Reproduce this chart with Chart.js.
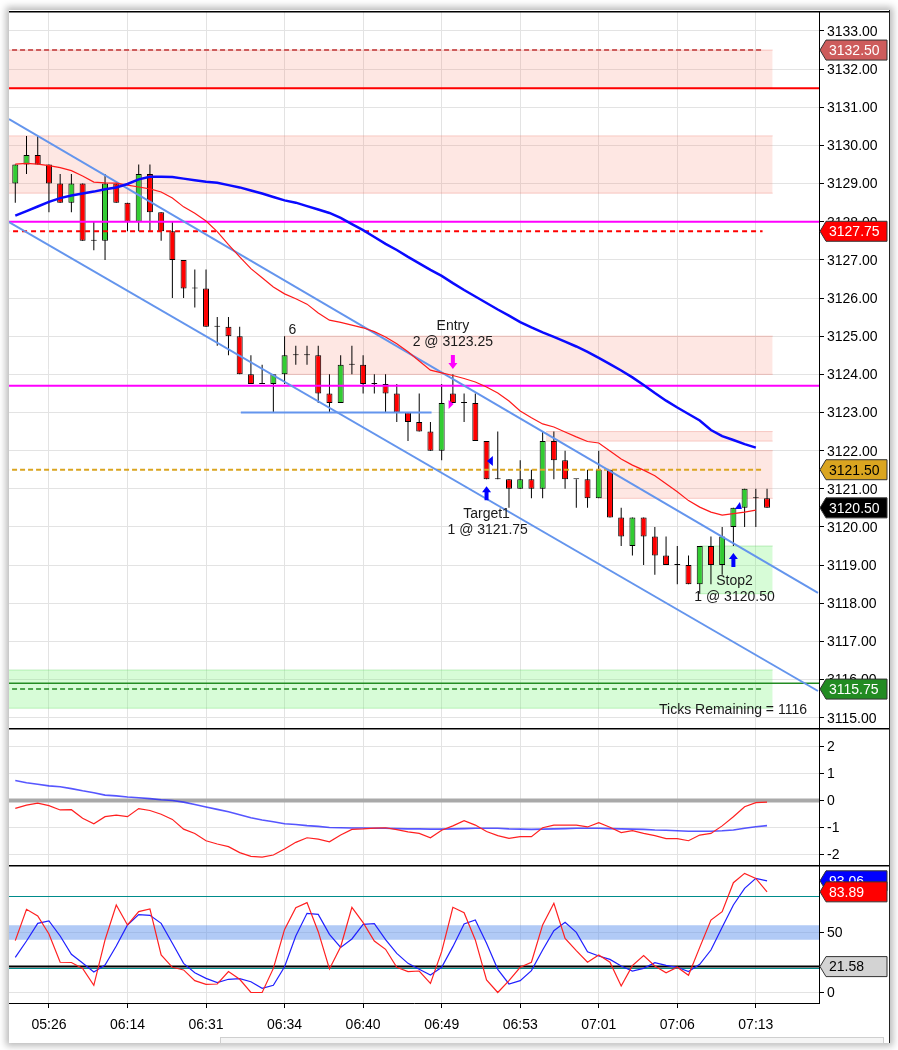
<!DOCTYPE html>
<html>
<head>
<meta charset="utf-8">
<title>ES 1 min</title>
<script src="https://cdn.jsdelivr.net/npm/chart.js@4.4.1/dist/chart.umd.min.js"></script>
<style>
  html, body { margin: 0; padding: 0; background: #fff; }
  #page { position: relative; width: 898px; height: 1050px; overflow: hidden; background: #fff; }
  #frame { position: absolute; left: 9px; top: 10px; width: 880px; height: 1033px; background: #fff;
           border-right: 1px solid #222; box-shadow: 0 0 7px 3px rgba(0,0,0,0.28); }
  canvas { position: absolute; left: 9px; }
  #scroll { position: absolute; left: 220px; top: 1037px; width: 662px; height: 5px;
            border: 1px solid #cfcfcf; background: #f5f5f5; }
</style>
</head>
<body>
<div id="page">
  <div id="frame"></div>
  <canvas id="priceChart" width="880" height="717" style="top:11px"></canvas>
  <canvas id="oscChart" width="880" height="137" style="top:728px"></canvas>
  <canvas id="stochChart" width="880" height="172" style="top:865px"></canvas>
  <div id="scroll"></div>
</div>
<script>
const FONT = '"Liberation Sans", Arial, Helvetica, sans-serif';

// ---- data ----
const timeLabels = ['05:26', '06:14', '06:31', '06:34', '06:40', '06:49', '06:53', '07:01', '07:06', '07:13'];
const labelBars = [3, 10, 17, 24, 31, 38, 45, 52, 59, 66];

const opens = [3129.0, 3129.5, 3129.75, 3129.5, 3129.0, 3128.5, 3129.0, 3127.5, 3127.5, 3129.0,
  3128.5, 3128.0, 3129.25, 3128.25, 3127.75, 3127.0, 3126.25, 3126.25, 3125.25, 3125.25,
  3125.0, 3124.0, 3123.75, 3123.75, 3124.0, 3124.5, 3124.5, 3124.5, 3123.5, 3123.25,
  3124.25, 3124.25, 3123.75, 3123.75, 3123.5, 3123.0, 3122.75, 3122.5, 3122.0, 3123.5,
  3123.25, 3123.25, 3122.25, 3121.25, 3121.25, 3121.0, 3121.25, 3121.0, 3122.25, 3121.75,
  3121.25, 3121.25, 3120.75, 3121.5, 3120.25, 3119.5, 3120.25, 3119.75, 3119.25, 3119.0,
  3119.0, 3118.5, 3119.5, 3119.0, 3120.0, 3120.5, 3120.75, 3120.75];
const highs = [3129.5, 3130.25, 3130.25, 3129.5, 3129.25, 3129.25, 3129.0, 3128.0, 3129.25, 3129.0,
  3128.5, 3129.5, 3129.5, 3128.25, 3128.0, 3127.0, 3126.75, 3126.75, 3125.5, 3125.5,
  3125.25, 3124.5, 3124.25, 3124.0, 3125.0, 3124.75, 3124.75, 3124.75, 3124.0, 3124.5,
  3124.75, 3124.5, 3124.0, 3124.0, 3123.75, 3123.0, 3123.5, 3122.75, 3123.75, 3124.0,
  3123.5, 3123.5, 3122.25, 3122.5, 3121.25, 3121.75, 3121.5, 3122.5, 3122.5, 3122.0,
  3121.25, 3121.5, 3122.0, 3121.5, 3120.5, 3120.25, 3120.25, 3120.0, 3119.75, 3119.5,
  3119.25, 3119.5, 3119.75, 3120.0, 3120.5, 3121.0, 3121.0, 3121.0];
const lows = [3128.5, 3129.25, 3129.5, 3128.25, 3128.5, 3128.25, 3127.5, 3127.25, 3127.0, 3128.5,
  3127.75, 3127.75, 3127.75, 3127.5, 3126.0, 3126.0, 3125.75, 3125.25, 3124.75, 3124.5,
  3124.0, 3123.75, 3123.75, 3123.0, 3123.75, 3124.25, 3124.25, 3123.25, 3123.0, 3123.25,
  3124.0, 3123.5, 3123.5, 3123.0, 3122.75, 3122.25, 3122.5, 3122.0, 3121.75, 3123.25,
  3122.75, 3122.25, 3121.25, 3121.25, 3120.5, 3121.0, 3120.75, 3120.75, 3121.25, 3121.0,
  3120.5, 3120.5, 3120.75, 3120.25, 3119.5, 3119.25, 3119.0, 3118.75, 3119.0, 3118.5,
  3118.5, 3118.25, 3118.5, 3118.75, 3119.5, 3120.0, 3120.0, 3120.5];
const closes = [3129.5, 3129.75, 3129.5, 3129.0, 3128.5, 3129.0, 3127.5, 3127.5, 3129.0, 3128.5,
  3128.0, 3129.25, 3128.25, 3127.75, 3127.0, 3126.25, 3126.25, 3125.25, 3125.25, 3125.0,
  3124.0, 3123.75, 3123.75, 3124.0, 3124.5, 3124.5, 3124.5, 3123.5, 3123.25, 3124.25,
  3124.25, 3123.75, 3123.75, 3123.5, 3123.0, 3122.75, 3122.5, 3122.0, 3123.25, 3123.25,
  3123.25, 3122.25, 3121.25, 3121.25, 3121.0, 3121.25, 3121.0, 3122.25, 3121.75, 3121.25,
  3121.25, 3120.75, 3121.5, 3120.25, 3119.75, 3120.25, 3119.75, 3119.25, 3119.0, 3119.0,
  3118.5, 3119.5, 3119.0, 3119.75, 3120.5, 3121.0, 3120.75, 3120.5];

const slowAverage = [3128.16, 3128.28, 3128.40, 3128.52, 3128.62, 3128.69, 3128.74, 3128.79, 3128.85, 3128.90,
  3128.99, 3129.11, 3129.18, 3129.18, 3129.17, 3129.13, 3129.09, 3129.05, 3129.02, 3128.96,
  3128.90, 3128.82, 3128.74, 3128.65, 3128.56, 3128.50, 3128.41, 3128.32, 3128.23, 3128.10,
  3127.94, 3127.78, 3127.60, 3127.42, 3127.26, 3127.08, 3126.91, 3126.74, 3126.58, 3126.39,
  3126.21, 3126.04, 3125.87, 3125.70, 3125.54, 3125.37, 3125.23, 3125.10, 3124.98, 3124.86,
  3124.73, 3124.59, 3124.43, 3124.27, 3124.10, 3123.92, 3123.72, 3123.51, 3123.31, 3123.13,
  3122.96, 3122.79, 3122.54, 3122.38, 3122.28, 3122.17, 3122.08];
const fastAverage = [3129.51, 3129.53, 3129.51, 3129.47, 3129.42, 3129.34, 3129.20, 3129.04, 3129.02, 3129.01,
  3128.96, 3128.91, 3128.86, 3128.78, 3128.62, 3128.39, 3128.22, 3128.02, 3127.74, 3127.40,
  3127.08, 3126.77, 3126.53, 3126.29, 3126.11, 3125.98, 3125.84, 3125.61, 3125.42, 3125.36,
  3125.29, 3125.22, 3125.12, 3124.98, 3124.80, 3124.59, 3124.35, 3124.11, 3124.04, 3123.97,
  3123.89, 3123.80, 3123.67, 3123.51, 3123.30, 3123.04, 3122.86, 3122.70, 3122.62, 3122.49,
  3122.36, 3122.24, 3122.20, 3121.99, 3121.78, 3121.62, 3121.49, 3121.34, 3121.13, 3120.92,
  3120.69, 3120.52, 3120.39, 3120.31, 3120.35, 3120.39, 3120.44];

const oscFast = [-0.29, -0.17, -0.10, -0.19, -0.35, -0.34, -0.66, -0.86, -0.60, -0.54,
  -0.60, -0.30, -0.37, -0.51, -0.70, -1.06, -1.22, -1.49, -1.61, -1.71,
  -1.93, -2.07, -2.10, -2.02, -1.80, -1.55, -1.38, -1.43, -1.53, -1.28,
  -1.07, -1.05, -1.02, -1.01, -1.08, -1.16, -1.22, -1.38, -1.10, -0.94,
  -0.75, -0.91, -1.15, -1.30, -1.40, -1.34, -1.34, -1.01, -0.91, -0.91,
  -0.91, -0.98, -0.82, -0.99, -1.19, -1.12, -1.22, -1.30, -1.41, -1.41,
  -1.49, -1.28, -1.22, -0.94, -0.60, -0.23, -0.08, -0.06];
const oscSlow = [0.74, 0.66, 0.60, 0.54, 0.51, 0.44, 0.36, 0.29, 0.20, 0.17,
  0.13, 0.10, 0.07, 0.03, 0.00, -0.06, -0.15, -0.24, -0.33, -0.42,
  -0.53, -0.64, -0.72, -0.79, -0.86, -0.89, -0.93, -0.96, -1.00, -1.01,
  -1.02, -1.02, -1.03, -1.03, -1.04, -1.05, -1.05, -1.06, -1.06, -1.05,
  -1.04, -1.03, -1.03, -1.03, -1.05, -1.06, -1.07, -1.06, -1.05, -1.04,
  -1.03, -1.03, -1.03, -1.04, -1.05, -1.06, -1.07, -1.09, -1.10, -1.12,
  -1.14, -1.14, -1.14, -1.12, -1.09, -1.03, -0.97, -0.93];

const stochK = [43.2, 69.3, 63.8, 48.8, 25.2, 25.0, 20.1, 6.0, 43.8, 72.9,
  56.3, 67.4, 69.6, 31.3, 21.0, 18.8, 9.9, 6.8, 7.1, 17.4,
  11.0, 0.0, 0.0, 20.1, 52.6, 70.7, 74.9, 50.7, 19.6, 38.2,
  71.0, 58.2, 42.9, 36.0, 21.0, 17.4, 17.9, 7.6, 34.0, 71.0,
  66.5, 43.8, 10.4, 0.0, 9.9, 21.0, 25.2, 56.3, 74.3, 45.1,
  34.9, 25.2, 31.3, 25.2, 5.4, 22.4, 30.7, 22.1, 16.5, 21.0,
  14.3, 37.6, 60.4, 67.4, 91.5, 99.3, 95.1, 83.89];
const stochD = [29.3, 42.9, 57.6, 59.6, 47.1, 31.8, 24.6, 17.1, 22.9, 38.8,
  56.3, 64.9, 64.3, 57.6, 41.0, 24.3, 16.5, 11.8, 8.2, 11.0,
  11.5, 9.0, 3.5, 6.0, 21.5, 47.1, 66.0, 65.1, 48.5, 37.6,
  44.6, 56.8, 57.4, 44.0, 32.6, 24.3, 19.3, 14.6, 21.0, 38.2,
  57.1, 60.4, 41.0, 19.3, 7.1, 9.9, 18.2, 35.4, 51.5, 58.5,
  50.1, 34.0, 30.4, 27.6, 22.1, 17.9, 20.1, 24.9, 22.6, 21.0,
  17.4, 23.5, 35.4, 54.3, 72.9, 86.8, 95.1, 93.06];

const priceTicks = [3115, 3116, 3117, 3118, 3119, 3120, 3121, 3122, 3123, 3124,
  3125, 3126, 3127, 3128, 3129, 3130, 3131, 3132, 3133];
const oscTicks = [-2, -1, 0, 1, 2];
const stochTicks = [0, 50];

// horizontal levels (price, last bar they reach)
const levelPrices = [3132.5, 3131.5, 3128.0, 3127.75, 3123.7, 3121.5, 3115.9, 3115.75];
const levelEnds = [66.6, 73, 73, 66.6, 73, 66.6, 73, 66.6];
// zones: low / high price, first / last bar
const zoneLows = [3131.5, 3128.75, 3124.0, 3122.25, 3120.75, 3118.25, 3115.25];
const zoneHighs = [3132.5, 3130.25, 3125.0, 3122.5, 3122.0, 3119.5, 3116.25];
const zoneFrom = [-1, -1, 24.0, 47.3, 52.1, 61.0, -1];
const zoneTo = [67.5, 67.5, 67.5, 67.5, 67.5, 67.5, 67.5];
// drawn channel and support segment
const channelBars = [-0.56, 71.54];
const channelUpper = [3130.69, 3118.27];
const channelLower = [3127.99, 3115.70];
const supportBars = [20.1, 37.1];
const supportPrice = 3123.0;

// annotations
const noteTexts = ['6', 'Entry', '2 @ 3123.25', 'Target1', '1 @ 3121.75', 'Stop2', '1 @ 3120.50'];
const noteBars = [24.7, 39.0, 39.0, 42.0, 42.1, 64.1, 64.1];
const notePrices = [3125.16, 3125.27, 3124.85, 3120.34, 3119.92, 3118.58, 3118.16];
const arrowBars = [39, 42, 64];
const arrowPrices = [3124.14, 3121.07, 3119.32];
const arrowUp = [false, true, true];
const fillBars = [38.8, 42.3, 64.4];
const fillPrices = [3123.22, 3121.73, 3120.52];
const priceTags = [3132.5, 3127.75, 3121.5, 3120.5, 3115.75];
const stochTags = [93.06, 83.89, 21.58];
const stochBand = [44, 56];
const stochLevels = [80, 20];
const stochSignal = 21.58;

// ---- styles ----
const levelStyles = [
  { color: '#cd5c5c', width: 2, dash: [5, 3] },
  { color: '#ff0000', width: 2, dash: [] },
  { color: '#ff00ff', width: 2, dash: [] },
  { color: '#ff0000', width: 2, dash: [5, 4] },
  { color: '#ff00ff', width: 2, dash: [] },
  { color: '#daa520', width: 2, dash: [5, 3] },
  { color: '#228b22', width: 1.5, dash: [] },
  { color: '#228b22', width: 1.5, dash: [5, 3] }
];
const zoneColors = ['red', 'red', 'red', 'red', 'red', 'green', 'green'];
const tagStyles = [
  { fill: '#cd5c5c', text: '#fff' },
  { fill: '#ff0000', text: '#fff' },
  { fill: '#daa520', text: '#000' },
  { fill: '#000000', text: '#fff' },
  { fill: '#228b22', text: '#fff' }
];
const stochTagStyles = [
  { fill: '#0000ff', text: '#fff' },
  { fill: '#ff0000', text: '#fff' },
  { fill: '#d3d3d3', text: '#000' }
];
const arrowColors = ['#ff00ff', '#0000ff', '#0000ff'];
const GRID = '#e3e3e3';
const X_MIN = -0.56, X_MAX = 71.63;

Chart.defaults.font.family = FONT;
Chart.defaults.font.size = 14;
Chart.defaults.color = '#000';

const bars = opens.map((_, i) => i);
const pts = (arr) => arr.map((v, i) => ({ x: i, y: v }));
const seg = (x0, x1, y0, y1) => [{ x: x0, y: y0 }, { x: x1, y: y1 }];

function xAxis(showLabels) {
  return {
    type: 'linear', min: X_MIN, max: X_MAX, offset: false,
    afterBuildTicks: s => { s.ticks = labelBars.map(v => ({ value: v })); },
    afterFit: s => { s.height = showLabels ? 34 : 0; s.paddingLeft = 0; s.paddingRight = 0; },
    grid: { color: GRID, offset: false, drawTicks: showLabels, tickLength: 5, tickColor: '#000' },
    border: { display: showLabels, color: '#000', width: 1 },
    ticks: { display: showLabels, autoSkip: false, maxRotation: 0, padding: 9, font: { size: 14 },
             callback: (v, i) => timeLabels[i] }
  };
}

function yAxis(min, max, ticks, fmt) {
  return {
    type: 'linear', position: 'right', min, max,
    afterBuildTicks: s => { s.ticks = ticks.map(v => ({ value: v })); },
    afterFit: s => { s.width = 70; s.paddingTop = 0; s.paddingBottom = 0; },
    grid: { color: GRID, tickLength: 5, tickColor: '#000' },
    border: { color: '#000', width: 1 },
    ticks: { autoSkip: false, padding: 3, labelOffset: 1, font: { size: 14 }, callback: fmt }
  };
}

function baseOptions(y, showX) {
  return {
    responsive: false, animation: false, events: [],
    layout: { padding: 0 },
    plugins: { legend: { display: false }, tooltip: { enabled: false } },
    scales: { x: xAxis(showX), y }
  };
}

function lineSet(data, color, width, order, extra) {
  return Object.assign({ type: 'line', data, borderColor: color, borderWidth: width, pointRadius: 0,
    fill: false, tension: 0, order, clip: 0 }, extra || {});
}

function drawTag(ctx, area, y, text, style) {
  const x0 = area.right + 1, tip = 6, w = 61, h = 20;
  ctx.save();
  ctx.beginPath();
  ctx.moveTo(x0, y);
  ctx.lineTo(x0 + tip, y - h / 2);
  ctx.lineTo(x0 + tip + w, y - h / 2);
  ctx.lineTo(x0 + tip + w, y + h / 2);
  ctx.lineTo(x0 + tip, y + h / 2);
  ctx.closePath();
  ctx.fillStyle = style.fill;
  ctx.fill();
  ctx.strokeStyle = '#333';
  ctx.lineWidth = 1;
  ctx.stroke();
  ctx.fillStyle = style.text;
  ctx.font = '14px ' + FONT;
  ctx.textAlign = 'left';
  ctx.textBaseline = 'middle';
  ctx.fillText(text, x0 + tip + 3, y + 1);
  ctx.restore();
}

function topLine(chart) {
  const ctx = chart.ctx;
  ctx.save();
  ctx.strokeStyle = '#000';
  ctx.lineWidth = 1.5;
  ctx.beginPath();
  ctx.moveTo(0, chart.chartArea.top + 0.75);
  ctx.lineTo(chart.width, chart.chartArea.top + 0.75);
  ctx.stroke();
  ctx.restore();
}

const priceOverlay = {
  id: 'priceOverlay',
  afterDatasetsDraw(chart) {
    const { ctx, chartArea, scales: { x, y } } = chart;
    ctx.save();
    ctx.beginPath();
    ctx.rect(chartArea.left, chartArea.top, chartArea.width, chartArea.height);
    ctx.clip();
    ctx.font = '14px ' + FONT;
    ctx.fillStyle = '#1a1a1a';
    ctx.textAlign = 'center';
    ctx.textBaseline = 'middle';
    noteTexts.forEach((t, k) => ctx.fillText(t, x.getPixelForValue(noteBars[k]), y.getPixelForValue(notePrices[k])));
    ctx.textAlign = 'right';
    ctx.fillText('Ticks Remaining = 1116', chartArea.right - 12, chartArea.bottom - 18);

    arrowBars.forEach((b, k) => {
      const cx = x.getPixelForValue(b), tipY = y.getPixelForValue(arrowPrices[k]);
      const s = arrowUp[k] ? 1 : -1;
      ctx.fillStyle = arrowColors[k];
      ctx.beginPath();
      ctx.moveTo(cx, tipY);
      ctx.lineTo(cx - 4.5, tipY + s * 6);
      ctx.lineTo(cx - 2, tipY + s * 6);
      ctx.lineTo(cx - 2, tipY + s * 14);
      ctx.lineTo(cx + 2, tipY + s * 14);
      ctx.lineTo(cx + 2, tipY + s * 6);
      ctx.lineTo(cx + 4.5, tipY + s * 6);
      ctx.closePath();
      ctx.fill();
    });
    // small fill markers
    const tri = (cx, cy, pts, color) => {
      ctx.fillStyle = color;
      ctx.beginPath();
      ctx.moveTo(cx + pts[0][0], cy + pts[0][1]);
      ctx.lineTo(cx + pts[1][0], cy + pts[1][1]);
      ctx.lineTo(cx + pts[2][0], cy + pts[2][1]);
      ctx.closePath();
      ctx.fill();
    };
    const fx = fillBars.map(b => x.getPixelForValue(b));
    const fy = fillPrices.map(p => y.getPixelForValue(p));
    tri(fx[0], fy[0], [[-2, -4], [-2, 5], [3, 0]], '#ff00ff');
    tri(fx[1], fy[1], [[3, -5], [3, 5], [-3, 0]], '#0000ff');
    tri(fx[2], fy[2], [[-3, 2], [4, 2], [2, -5]], '#0000ff');
    ctx.restore();
  },
  afterDraw(chart) {
    const { ctx, chartArea, scales: { y } } = chart;
    priceTags.forEach((p, k) => drawTag(ctx, chartArea, y.getPixelForValue(p), p.toFixed(2), tagStyles[k]));
    topLine(chart);
  }
};

const oscOverlay = { id: 'oscOverlay', afterDraw(chart) { topLine(chart); } };

const stochOverlay = {
  id: 'stochOverlay',
  afterDraw(chart) {
    const { ctx, chartArea, scales: { y } } = chart;
    stochTags.forEach((v, k) => drawTag(ctx, chartArea, y.getPixelForValue(v), v.toFixed(2), stochTagStyles[k]));
    topLine(chart);
  }
};

// ---- price panel ----
const priceSets = [];
zoneLows.forEach((lo, k) => {
  const red = zoneColors[k] === 'red';
  const fill = red ? 'rgba(250,120,100,0.18)' : 'rgba(124,245,124,0.3)';
  const edge = red ? 'rgba(235,120,110,0.35)' : 'rgba(90,210,90,0.35)';
  priceSets.push(lineSet(seg(zoneFrom[k], zoneTo[k], zoneHighs[k], zoneHighs[k]), edge, 1, 20,
    { fill: { value: lo }, backgroundColor: fill }));
  priceSets.push(lineSet(seg(zoneFrom[k], zoneTo[k], lo, lo), edge, 1, 20));
});
priceSets.push({
  type: 'bar', data: bars.map(i => ({ x: i, y: [lows[i], highs[i]] })),
  backgroundColor: '#000', borderWidth: 0, barThickness: 1, inflateAmount: 0, grouped: false, order: 12
});
priceSets.push({
  type: 'bar', data: bars.map(i => ({ x: i, y: [opens[i], closes[i]] })),
  backgroundColor: bars.map(i => closes[i] > opens[i] ? '#32cd32' : (closes[i] < opens[i] ? '#ff0000' : '#000')),
  borderColor: '#000', borderWidth: 1, borderSkipped: false, barThickness: 6, minBarLength: 1,
  inflateAmount: 0, grouped: false, order: 11
});
levelPrices.forEach((p, k) => {
  const st = levelStyles[k];
  priceSets.push(lineSet(seg(-1, levelEnds[k], p, p), st.color, st.width, 4, { borderDash: st.dash }));
});
priceSets.push(lineSet(seg(supportBars[0], supportBars[1], supportPrice, supportPrice), '#6495ed', 2, 3));
priceSets.push(lineSet(seg(channelBars[0], channelBars[1], channelUpper[0], channelUpper[1]), '#6495ed', 2, 3));
priceSets.push(lineSet(seg(channelBars[0], channelBars[1], channelLower[0], channelLower[1]), '#6495ed', 2, 3));
priceSets.push(lineSet(pts(slowAverage), '#0a0aff', 2.5, 2));
priceSets.push(lineSet(pts(fastAverage), '#ff1a1a', 1.2, 2));

new Chart(document.getElementById('priceChart'), {
  type: 'line',
  data: { datasets: priceSets },
  options: baseOptions(yAxis(3114.73, 3133.524, priceTicks, v => v.toFixed(2)), false),
  plugins: [priceOverlay]
});

// ---- oscillator panel ----
new Chart(document.getElementById('oscChart'), {
  type: 'line',
  data: {
    datasets: [
      lineSet(seg(-1, 73, 0, 0), '#a9a9a9', 4, 5),
      lineSet(pts(oscSlow), 'rgba(30,30,255,0.75)', 1.6, 2),
      lineSet(pts(oscFast), '#ff2020', 1.2, 1)
    ]
  },
  options: baseOptions(yAxis(-2.389, 2.685, oscTicks, v => String(v)), false),
  plugins: [oscOverlay]
});

// ---- stochastic panel ----
new Chart(document.getElementById('stochChart'), {
  type: 'line',
  data: {
    datasets: [
      lineSet(seg(-1, 73, stochBand[1], stochBand[1]), 'rgba(0,0,0,0)', 0, 9,
        { fill: { value: stochBand[0] }, backgroundColor: 'rgba(100,149,237,0.5)' }),
      lineSet(seg(-1, 73, stochLevels[0], stochLevels[0]), '#008b8b', 1, 6),
      lineSet(seg(-1, 73, stochLevels[1], stochLevels[1]), '#008b8b', 1, 6),
      lineSet(seg(-1, 73, stochSignal, stochSignal), '#000', 2, 5),
      lineSet(pts(stochD), '#2020ff', 1.2, 2),
      lineSet(pts(stochK), '#ff2020', 1.2, 1)
    ]
  },
  options: baseOptions(yAxis(-8.75, 106.25, stochTicks, v => String(v)), true),
  plugins: [stochOverlay]
});
</script>
</body>
</html>
